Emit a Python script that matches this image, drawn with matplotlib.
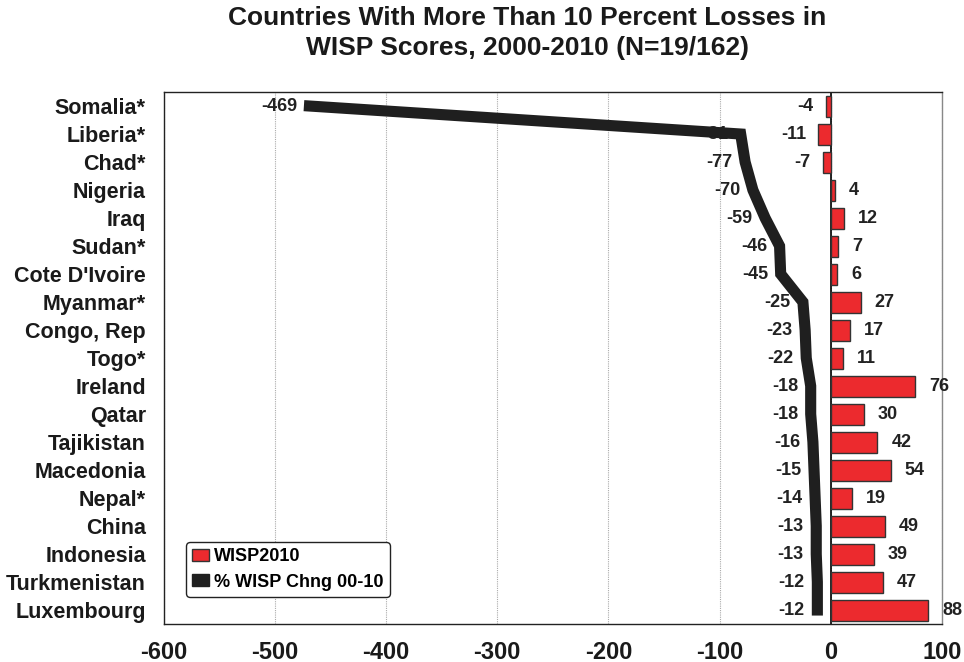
import matplotlib
matplotlib.use("Agg")
import matplotlib.pyplot as plt
from matplotlib.patches import Patch
import numpy as np

plt.rcParams['font.family'] = ['Liberation Sans', 'DejaVu Sans']
plt.rcParams['font.weight'] = 'bold'

countries = ["Somalia*", "Liberia*", "Chad*", "Nigeria", "Iraq", "Sudan*",
             "Cote D'Ivoire", "Myanmar*", "Congo, Rep", "Togo*", "Ireland",
             "Qatar", "Tajikistan", "Macedonia", "Nepal*", "China",
             "Indonesia", "Turkmenistan", "Luxembourg"]
wisp2010 = [-4, -11, -7, 4, 12, 7, 6, 27, 17, 11, 76, 30, 42, 54, 19, 49, 39, 47, 88]
pct_change = [-469, -81, -77, -70, -59, -46, -45, -25, -23, -22, -18, -18,
              -16, -15, -14, -13, -13, -12, -12]
x_ticks = [-600, -500, -400, -300, -200, -100, 0, 100]

red = "#ec2a2e"
dark = "#1f1f1f"

fig = plt.figure(figsize=(9.64, 6.62), dpi=100)
ax = fig.add_axes([0.170, 0.0574, 0.807, 0.8036])

y = np.arange(len(countries))

ax.barh(y, wisp2010, height=0.75, color=red, edgecolor="#333333",
        linewidth=1.0, zorder=3)
ax.plot(pct_change, y, color=dark, linewidth=8, solid_joinstyle='miter',
        zorder=4)
ax.axvline(0, color="black", linewidth=1.2, zorder=2)

for yi, v in zip(y, wisp2010):
    if v < 0:
        ax.annotate(str(v), (v, yi), xytext=(-9, 0), textcoords="offset points",
                    ha="right", va="center", fontsize=13, fontweight="bold",
                    color="#222222", zorder=5)
    else:
        ax.annotate(str(v), (v, yi), xytext=(10, 0), textcoords="offset points",
                    ha="left", va="center", fontsize=13, fontweight="bold",
                    color="#222222", zorder=5)

for yi, v in zip(y, pct_change):
    ax.annotate(str(v), (v, yi), xytext=(-9, 0), textcoords="offset points",
                ha="right", va="center", fontsize=13, fontweight="bold",
                color="#222222", zorder=2)

ax.set_xlim(-600, 100)
ax.set_ylim(len(countries) - 0.5, -0.5)
ax.set_xticks(x_ticks)
ax.set_xticklabels([str(t) for t in x_ticks], fontsize=17, fontweight="bold",
                   color="#1a1a1a")
ax.set_yticks(y)
ax.set_yticklabels(countries, fontsize=15.5, fontweight="bold", color="#1a1a1a")
ax.tick_params(axis="both", length=0)
ax.tick_params(axis="x", pad=12)
ax.tick_params(axis="y", pad=13)

ax.grid(axis="x", color="#aaaaaa", linestyle=(0, (1, 1)), linewidth=0.8,
        zorder=0)
ax.set_axisbelow(True)
for s in ax.spines.values():
    s.set_color("#222222")
    s.set_linewidth(1.0)
ax.spines["right"].set_color("#888888")

handles = [Patch(facecolor=red, edgecolor="#333333", linewidth=1.0),
           Patch(facecolor=dark, edgecolor=dark)]
leg = ax.legend(handles, ["WISP2010", "% WISP Chng 00-10"], loc="lower left",
                bbox_to_anchor=(0.017, 0.034),
                prop={"weight": "bold", "size": 13}, frameon=True,
                fancybox=True, edgecolor="#222222", framealpha=1,
                handlelength=0.9, handleheight=0.6, handletextpad=0.3,
                borderpad=0.35, labelspacing=0.45)
leg.get_frame().set_linewidth(1.0)
leg.set_zorder(6)

fig.text(0.547, 1 - 6 / 662,
         "Countries With More Than 10 Percent Losses in\nWISP Scores, 2000-2010 (N=19/162)",
         ha="center", va="top", fontsize=19, fontweight="bold",
         color="#1a1a1a", linespacing=1.3)

fig.savefig("out.png", dpi=100)
